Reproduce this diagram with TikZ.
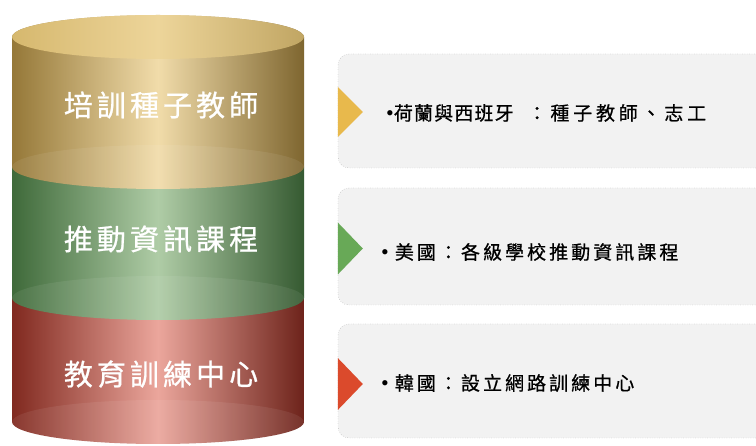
\documentclass[tikz,border=0pt]{standalone}
\usepackage{fontspec}
\newfontfamily\cyltext[LetterSpace=14,FakeBold=0.8]{Noto Sans CJK TC}
\newfontfamily\boxtext[LetterSpace=16,FakeBold=0.7]{Noto Sans CJK TC}
\newfontfamily\boxtextn[LetterSpace=6,FakeBold=0.7]{Noto Sans CJK TC}
\newfontfamily\boxtextw[LetterSpace=20,FakeBold=0.7]{Noto Sans CJK TC}
\newfontfamily\latin{Liberation Serif}
\usetikzlibrary{calc}
\definecolor{goldE}{HTML}{957838}
\definecolor{goldM}{HTML}{F1DCAA}
\definecolor{goldTopE}{HTML}{D6B86E}
\definecolor{goldTopM}{HTML}{EDD59A}
\definecolor{greenE}{HTML}{3F6A3A}
\definecolor{greenM}{HTML}{AFCCA6}
\definecolor{redE}{HTML}{80291F}
\definecolor{redM}{HTML}{EBA69C}
\definecolor{boxfill}{HTML}{F2F2F2}
\definecolor{boxline}{HTML}{8C8C8C}
\definecolor{triGold}{HTML}{E8B94C}
\definecolor{triGreen}{HTML}{68A957}
\definecolor{triRed}{HTML}{DB4A2C}
\tikzset{
  cyllabel/.style={text=white, font=\cyltext\fontsize{29pt}{32pt}\selectfont, inner sep=0pt},
  infobox/.style={draw=boxline, dotted, fill=boxfill, rounded corners=11pt, minimum width=442pt, inner sep=0pt},
  infotext/.style={text=black, font=\boxtext\fontsize{19pt}{22pt}\selectfont, anchor=west, inner sep=0pt},
  infotextn/.style={text=black, font=\boxtextn\fontsize{19pt}{22pt}\selectfont, anchor=west, inner sep=0pt},
  innerell/.style={fill=white, fill opacity=0.07},
}
\newcommand{\cylseg}[4]{% top y, bottom y, edge colour, middle colour
  \shade[left color=#3, right color=#3!85!black, middle color=#4]
    (12pt,-#1pt) -- (12pt,-#2pt)
    arc[start angle=180, end angle=360, x radius=146pt, y radius=22pt]
    -- (304pt,-#1pt)
    arc[start angle=0, end angle=180, x radius=146pt, y radius=22pt] -- cycle;
  \fill[innerell] (158pt,-#2pt) ellipse [x radius=146pt, y radius=22pt];
}
\newcommand{\bul}{{\latin\fontsize{22pt}{22pt}\selectfont •}}
\begin{document}
\begin{tikzpicture}[x=1pt,y=-1pt]
\useasboundingbox (0,0) rectangle (756,446);
\clip (0,0) rectangle (756,446);
\fill[white] (0,0) rectangle (756,446);

% cylinder, bottom segment first
\cylseg{298}{422}{redE}{redM}
\cylseg{167}{298}{greenE}{greenM}
\cylseg{37}{167}{goldE}{goldM}
\shade[left color=goldTopE, right color=goldTopE!90!black, middle color=goldTopM]
  (158pt,-37pt) ellipse [x radius=146pt, y radius=22pt];

\node[cyllabel] (t1) at (161,105) {培訓種子教師};
\node[cyllabel] (t2) at (161,239) {推動資訊課程};
\node[cyllabel] (t3) at (161,374) {教育訓練中心};

% boxes
\node[infobox, minimum height=114pt] (b1) at (559,111) {};
\node[infobox, minimum height=117pt] (b2) at (559,246.5) {};
\node[infobox, minimum height=114pt] (b3) at (559,381) {};

\fill[triGold] ($(b1.west)+(0,-24)$) -- ($(b1.west)+(25,1)$) -- ($(b1.west)+(0,26)$) -- cycle;
\fill[triGreen] ($(b2.west)+(0,-24)$) -- ($(b2.west)+(25,2)$) -- ($(b2.west)+(0,28)$) -- cycle;
\fill[triRed] ($(b3.west)+(0,-23)$) -- ($(b3.west)+(25,3)$) -- ($(b3.west)+(0,29)$) -- cycle;

\node[infotextn] (x1) at (386,113) {\bul 荷蘭與西班牙\hspace{14pt}{\boxtextw ：種子教師、志工}};
\node[infotext] (x2) at (381,252) {\bul\hspace{6pt}美國：各級學校推動資訊課程};
\node[infotext] (x3) at (381,383) {\bul\hspace{6pt}韓國：設立網路訓練中心};
\end{tikzpicture}
\end{document}
